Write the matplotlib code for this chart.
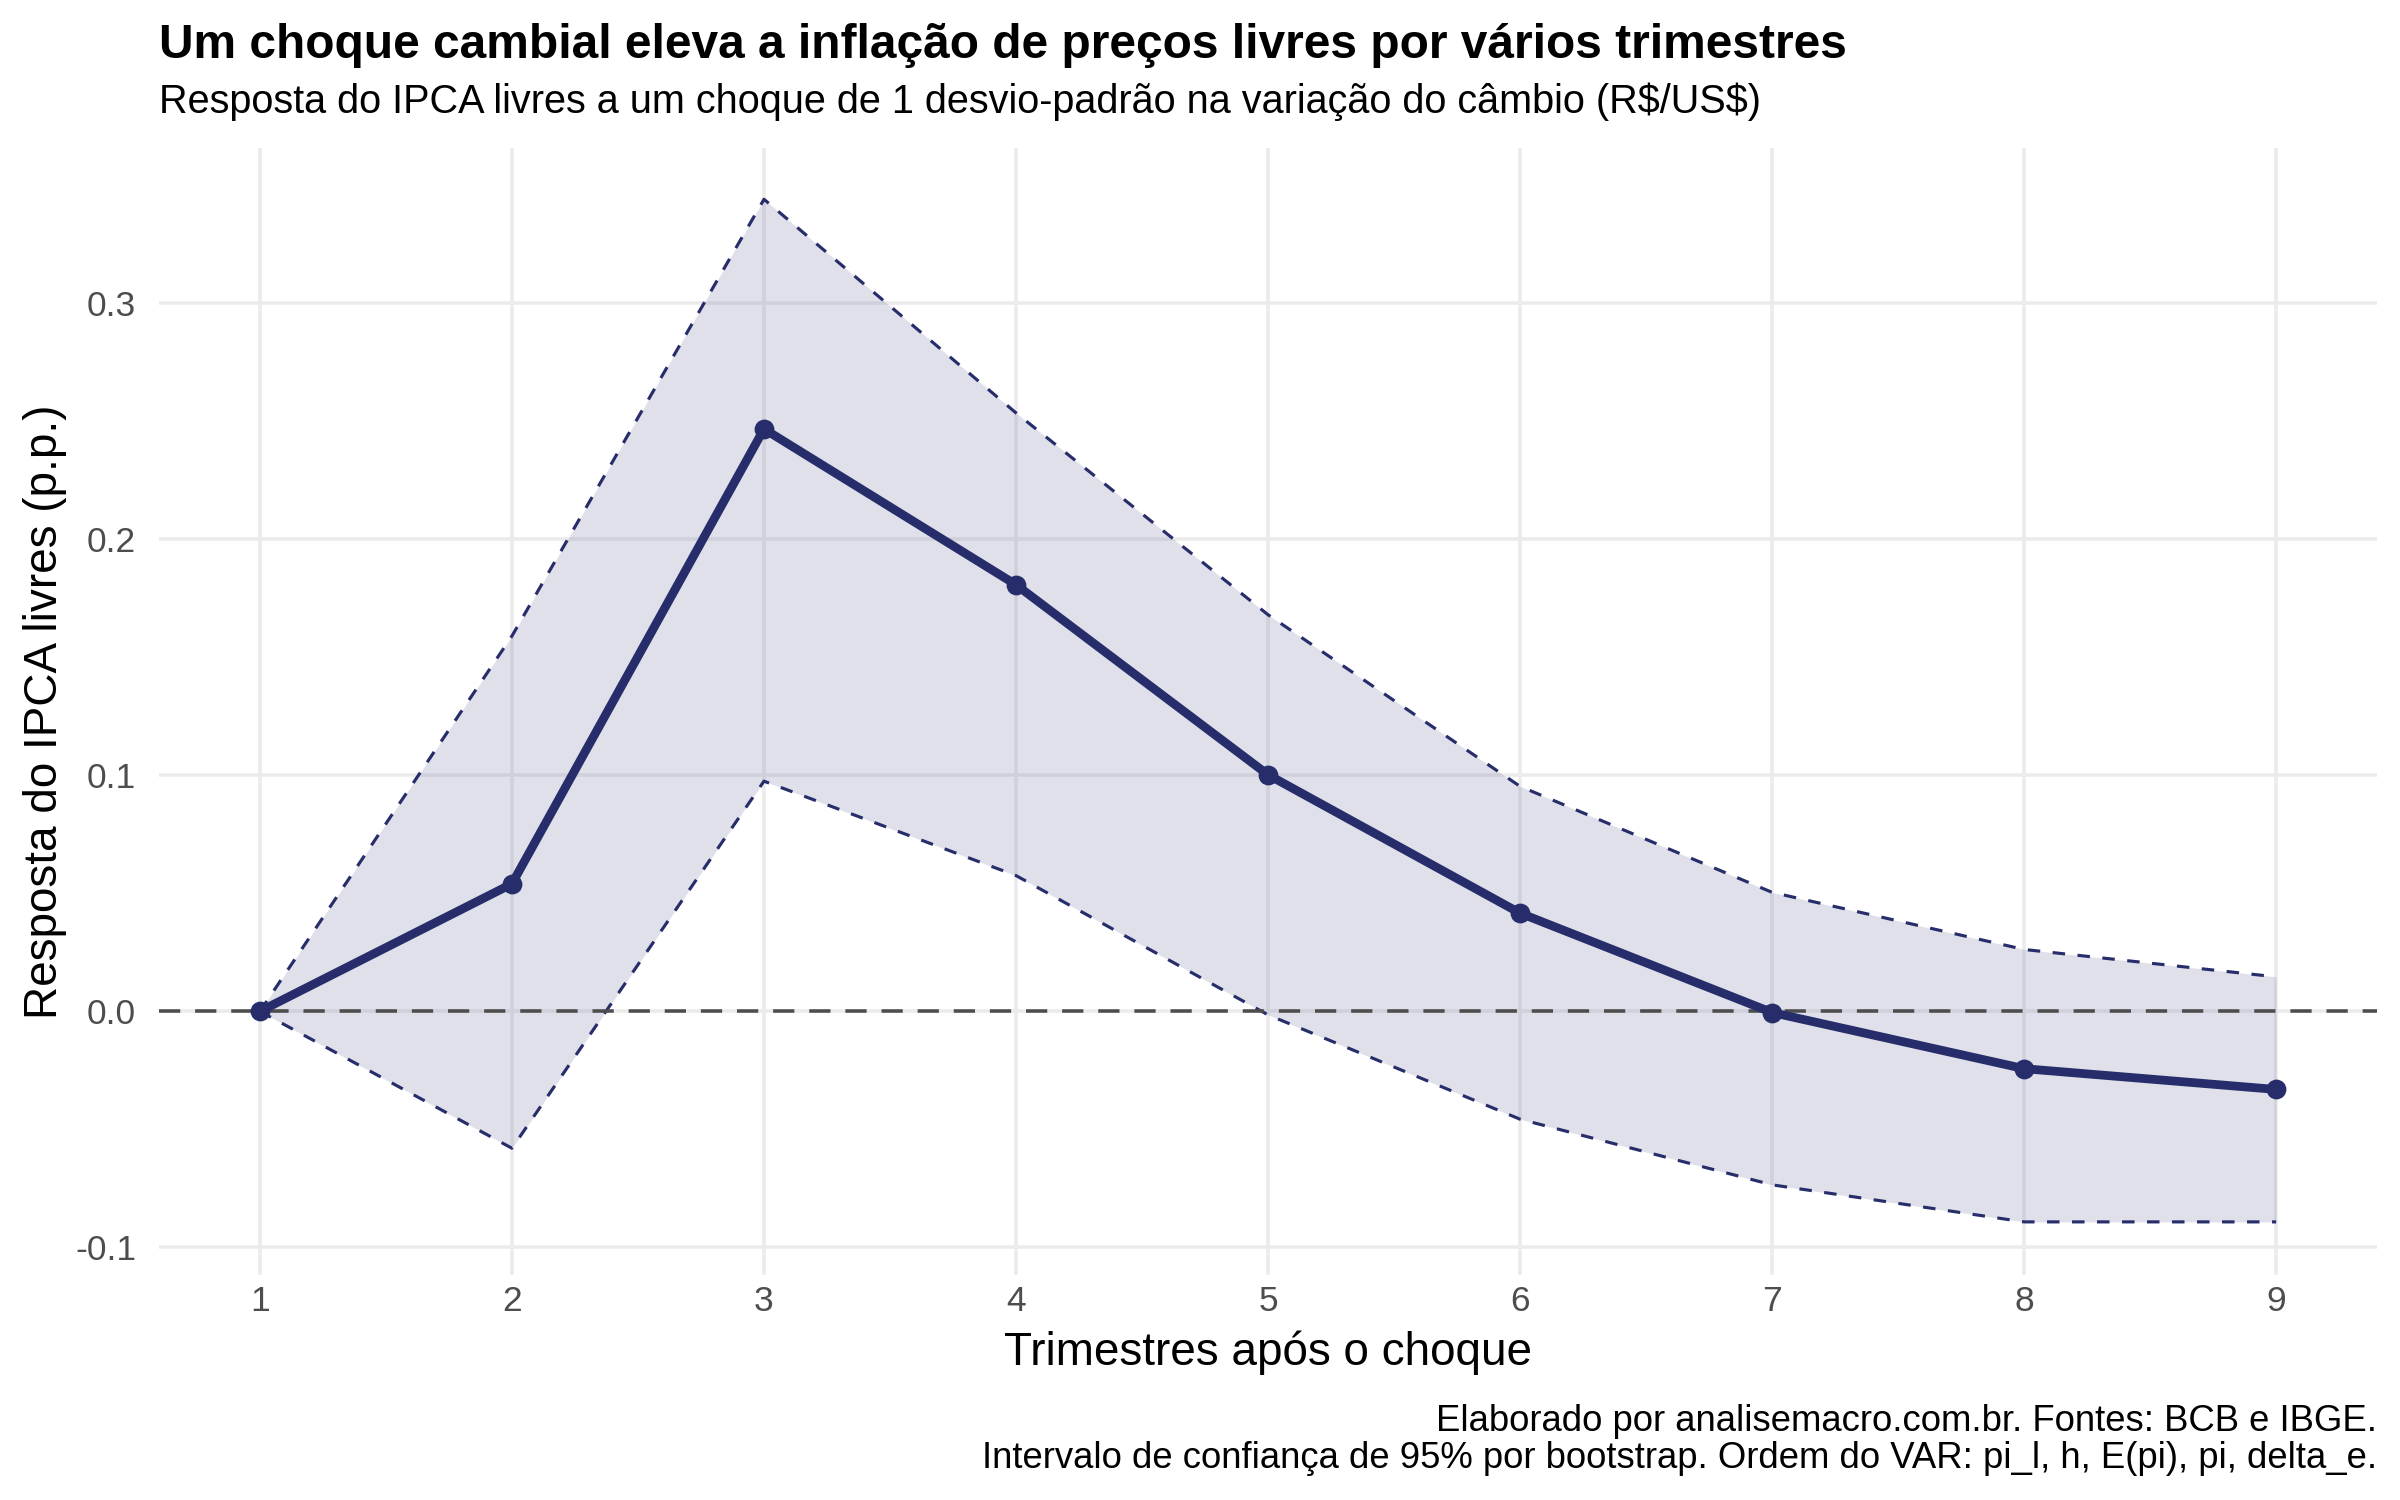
import numpy as np
import matplotlib
matplotlib.use("Agg")
import matplotlib.pyplot as plt

plt.rcParams['font.family'] = ['Liberation Sans', 'DejaVu Sans']

# dados da resposta ao impulso
trimestres = [1, 2, 3, 4, 5, 6, 7, 8, 9]
resposta = [0.0, 0.054, 0.2467, 0.1807, 0.1002, 0.0416, -0.0005, -0.0243, -0.0331]
limite_sup = [0.0, 0.159, 0.344, 0.2535, 0.168, 0.0953, 0.0504, 0.0262, 0.0146]
limite_inf = [0.0, -0.058, 0.0975, 0.0575, -0.0015, -0.0457, -0.0735, -0.0892, -0.0892]
y_ticks = [-0.1, 0.0, 0.1, 0.2, 0.3]
y_labels = ['-0.1', '0.0', '0.1', '0.2', '0.3']

titulo = "Um choque cambial eleva a inflação de preços livres por vários trimestres"
subtitulo = r"Resposta do IPCA livres a um choque de 1 desvio-padrão na variação do câmbio (R\$/US\$)"
nota1 = "Elaborado por analisemacro.com.br. Fontes: BCB e IBGE."
nota2 = "Intervalo de confiança de 95% por bootstrap. Ordem do VAR: pi_l, h, E(pi), pi, delta_e."

cor = '#272d6a'

fig = plt.figure(figsize=(16, 10), dpi=150)
ax = fig.add_axes([0.0663, 0.15, 0.9241, 0.7513])

ax.fill_between(trimestres, limite_inf, limite_sup, color='#62659a', alpha=0.2, linewidth=0, zorder=2)
ax.plot(trimestres, limite_sup, color=cor, linewidth=1.5, dashes=(4, 4), zorder=3)
ax.plot(trimestres, limite_inf, color=cor, linewidth=1.5, dashes=(4, 4), zorder=3)
ax.axhline(0, color='#4d4d4d', linewidth=1.7, dashes=(6, 4.2), zorder=3)
ax.plot(trimestres, resposta, color=cor, linewidth=4.2, marker='o', markersize=8.5, zorder=4)

ax.set_xlim(0.6, 9.4)
ax.set_ylim(-0.1117, 0.3657)
ax.set_xticks(trimestres)
ax.set_yticks(y_ticks)
ax.set_yticklabels(y_labels)
ax.grid(True, color='#ebebeb', linewidth=1.7, zorder=0)
ax.set_axisbelow(True)
for s in ax.spines.values():
    s.set_visible(False)
ax.tick_params(axis='both', length=0, labelsize=17, labelcolor='#4d4d4d')
ax.tick_params(axis='x', pad=5)
ax.tick_params(axis='y', pad=11)

ax.set_xlabel("Trimestres após o choque", fontsize=22, labelpad=6)
ax.set_ylabel("Resposta do IPCA livres (p.p.)", fontsize=22, labelpad=4)

fig.text(0.0663, 0.961, titulo, fontsize=23, fontweight='bold', va='baseline')
fig.text(0.0663, 0.9245, subtitulo, fontsize=19, va='baseline')
fig.text(0.9904, 0.046, nota1, fontsize=17.5, ha='right', va='baseline')
fig.text(0.9904, 0.0213, nota2, fontsize=17.5, ha='right', va='baseline')

fig.savefig('out.png', dpi=150)
